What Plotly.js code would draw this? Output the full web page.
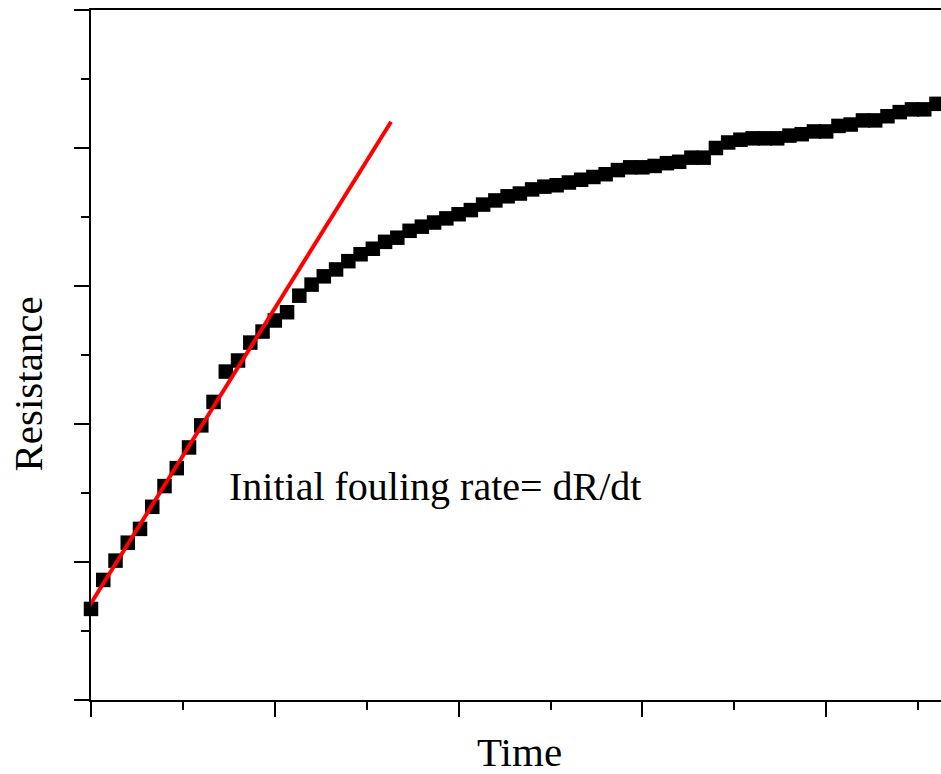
<!DOCTYPE html>
<html>
<head>
<meta charset="utf-8">
<script src="https://cdn.plot.ly/plotly-3.0.1.min.js"></script>
<style>
html, body { margin: 0; padding: 0; overflow: hidden; background: #fff; }
#chart { width: 1020px; height: 774px; }
</style>
</head>
<body>
<div id="chart"></div>
<script>
// Measured data (time index, resistance in axis units)
const timePoints = [0,1,2,3,4,5,6,7,8,9,10,11,12,13,14,15,16,17,18,19,20,21,22,23,24,25,26,27,28,29,30,31,32,33,34,35,36,37,38,39,40,41,42,43,44,45,46,47,48,49,50,51,52,53,54,55,56,57,58,59,60,61,62,63,64,65,66,67,68,69,70];
const resistance = [0.66,0.87,1.01,1.14,1.24,1.40,1.55,1.68,1.83,1.99,2.16,2.38,2.46,2.59,2.67,2.75,2.81,2.93,3.01,3.07,3.12,3.18,3.23,3.27,3.32,3.35,3.40,3.43,3.46,3.49,3.52,3.55,3.59,3.62,3.65,3.67,3.70,3.72,3.73,3.75,3.77,3.79,3.81,3.84,3.86,3.86,3.87,3.89,3.90,3.93,3.93,4.00,4.04,4.06,4.07,4.07,4.07,4.09,4.10,4.12,4.12,4.16,4.17,4.20,4.20,4.23,4.26,4.28,4.28,4.32,4.34];
// Initial slope (tangent) line end points
const fitTime = [-0.24, 24.49];
const fitResistance = [0.667, 4.19];
const xTitle = 'Time';
const yTitle = 'Resistance';
const noteText = 'Initial fouling rate= dR/dt';

const serif = 'Liberation Serif, Times New Roman, serif';

const traces = [
  {
    x: timePoints, y: resistance, type: 'scatter', mode: 'markers',
    marker: { symbol: 'square', size: 14.5, color: '#000000', line: { width: 0 } },
    cliponaxis: false, showlegend: false, hoverinfo: 'skip'
  },
  {
    x: fitTime, y: fitResistance, type: 'scatter', mode: 'lines',
    line: { color: '#ff0000', width: 4 },
    cliponaxis: false, showlegend: false, hoverinfo: 'skip'
  }
];

const axisCommon = {
  showgrid: false, zeroline: false, showticklabels: false,
  showline: true, linecolor: '#000', linewidth: 2, mirror: true,
  ticks: 'outside', ticklen: 15, tickwidth: 2, tickcolor: '#000'
};

const layout = {
  width: 1020, height: 774,
  margin: { l: 91, r: 10, t: 10, b: 74, pad: 0 },
  paper_bgcolor: '#fff', plot_bgcolor: '#fff',
  font: { family: serif, color: '#000' },
  xaxis: Object.assign({}, axisCommon, {
    range: [0, 75], tick0: 0, dtick: 15,
    minor: { dtick: 7.5, ticks: 'outside', ticklen: 8, tickwidth: 2, tickcolor: '#000', showgrid: false }
  }),
  yaxis: Object.assign({}, axisCommon, {
    range: [0, 5], tick0: 0, dtick: 1,
    minor: { dtick: 0.5, ticks: 'outside', ticklen: 8, tickwidth: 2, tickcolor: '#000', showgrid: false }
  }),
  annotations: [
    { text: noteText, xref: 'x', yref: 'y', x: 11.1, y: 1.55, xanchor: 'left', yanchor: 'middle',
      showarrow: false, font: { family: serif, size: 40, color: '#000' } },
    { text: xTitle, xref: 'x', yref: 'paper', x: 35.0, y: -0.076, xanchor: 'center', yanchor: 'middle',
      showarrow: false, font: { family: serif, size: 41, color: '#000' } },
    { text: yTitle, xref: 'paper', yref: 'y', x: -0.069, y: 2.29, xanchor: 'center', yanchor: 'middle',
      textangle: -90, showarrow: false, font: { family: serif, size: 41, color: '#000' } }
  ]
};

Plotly.newPlot('chart', traces, layout, { staticPlot: true, displayModeBar: false });
</script>
</body>
</html>
